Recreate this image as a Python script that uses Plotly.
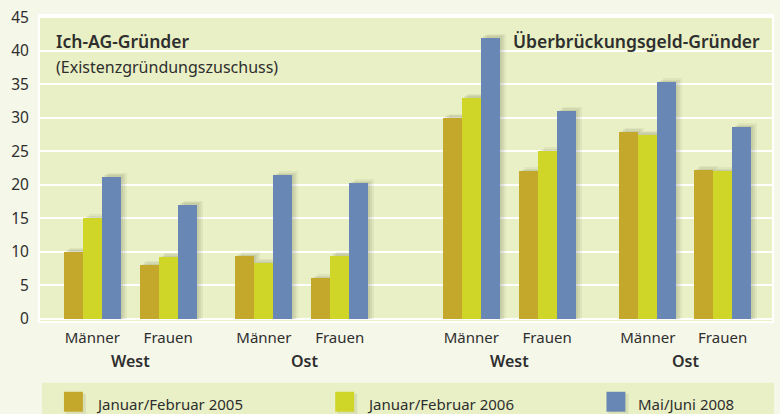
import plotly.graph_objects as go

# ---------------- data ----------------
categories = ["Männer", "Frauen", "Männer", "Frauen", "Männer", "Frauen", "Männer", "Frauen"]
regions = ["West", "Ost", "West", "Ost"]
series_names = ["Januar/Februar 2005", "Januar/Februar 2006", "Mai/Juni 2008"]
jan_feb_2005 = [10.0, 8.0, 9.3, 6.0, 30.0, 22.0, 27.9, 22.2]
jan_feb_2006 = [15.0, 9.2, 8.3, 9.4, 33.0, 25.0, 27.5, 22.0]
mai_jun_2008 = [21.2, 17.0, 21.4, 20.2, 42.0, 31.0, 35.3, 28.6]
y_ticks = [0, 5, 10, 15, 20, 25, 30, 35, 40, 45]

# ---------------- layout constants ----------------
W, H = 780, 414
L, R, T, B = 40, 6, 15, 93          # plot area 40..774 x 15..321
X0, X1 = 40, 774                      # x axis expressed in pixel-like units
group_x = [92.5, 168.5, 264.5, 340.5, 472.5, 548.5, 649.5, 724.5]
region_x = [131, 305, 511, 687]
BW = 19
colors = ["#C4A82B", "#CFD627", "#6887B5"]
plot_bg = "#E9F0C5"
page_bg = "#F5F7E9"
text_col = "#2E2E2E"
FONT = "Noto Sans"

def px(xp):
    return (xp - L) / (W - L - R)

def py(yp):
    return (H - B - yp) / (H - T - B)

series = [jan_feb_2005, jan_feb_2006, mai_jun_2008]
offsets = [-1.5 * BW, -0.5 * BW, 0.5 * BW]

fig = go.Figure()

# soft shadows
for vals, off in zip(series, offsets):
    for dx, dy, a in [(6, 0.6, 0.06), (4, 0.4, 0.08), (2, 0.2, 0.08)]:
        fig.add_trace(go.Bar(
            x=group_x, y=[v + dy for v in vals], offset=off + dx, width=BW,
            marker=dict(color=f"rgba(70,70,40,{a})", line=dict(width=0)),
            showlegend=False, hoverinfo="skip"))

for name, vals, off, c in zip(series_names, series, offsets, colors):
    fig.add_trace(go.Bar(
        x=group_x, y=vals, offset=off, width=BW, name=name,
        marker=dict(color=c, line=dict(width=0)), showlegend=False))

shapes = []
annotations = []

# legend band
shapes.append(dict(type="rect", xref="paper", yref="paper",
                   x0=px(42), x1=px(776), y0=py(383), y1=py(416),
                   fillcolor=plot_bg, line=dict(width=0), layer="below"))
sw_x = [64, 336, 608]
for sx, c, name in zip(sw_x, colors, series_names):
    shapes.append(dict(type="rect", xref="paper", yref="paper",
                       x0=px(sx + 2), x1=px(sx + 22), y0=py(394), y1=py(414),
                       fillcolor="rgba(70,70,40,0.10)", line=dict(width=0)))
    shapes.append(dict(type="rect", xref="paper", yref="paper",
                       x0=px(sx), x1=px(sx + 19), y0=py(392), y1=py(412),
                       fillcolor=c, line=dict(width=0)))
    annotations.append(dict(text=name, xref="paper", yref="paper",
                            x=px(sx + 30), y=py(404), xanchor="left", yanchor="middle",
                            showarrow=False, font=dict(family=FONT, size=15, color=text_col)))

# region labels
for rx, rn in zip(region_x, regions):
    annotations.append(dict(text=rn, x=rx, xref="x", yref="paper",
                            y=py(361), xanchor="center", yanchor="middle",
                            showarrow=False,
                            font=dict(family=FONT, size=16, color=text_col, weight=600)))

# panel titles
annotations.append(dict(text="Ich-AG-Gründer", xref="paper", yref="paper",
                        x=px(54), y=py(40), xanchor="left", yanchor="middle", showarrow=False,
                        font=dict(family=FONT, size=17.5, color=text_col, weight=600)))
annotations.append(dict(text="(Existenzgründungszuschuss)", xref="paper", yref="paper",
                        x=px(54), y=py(66), xanchor="left", yanchor="middle", showarrow=False,
                        font=dict(family=FONT, size=16, color=text_col)))
annotations.append(dict(text="Überbrückungsgeld-Gründer", xref="paper", yref="paper",
                        x=px(764), y=py(40), xanchor="right", yanchor="middle", showarrow=False,
                        font=dict(family=FONT, size=17.5, color=text_col, weight=600)))

fig.update_layout(
    width=W, height=H,
    margin=dict(l=L, r=R, t=T, b=B, pad=0),
    paper_bgcolor=page_bg, plot_bgcolor=plot_bg,
    barmode="overlay", bargap=0,
    shapes=shapes, annotations=annotations,
    font=dict(family=FONT, size=15, color=text_col),
    xaxis=dict(range=[X0, X1], tickvals=group_x, ticktext=categories,
               showgrid=False, zeroline=False, ticks="", ticklabelstandoff=2,
               showline=True, linecolor="white", linewidth=2, mirror=True,
               tickfont=dict(family=FONT, size=15, color=text_col), fixedrange=True),
    yaxis=dict(range=[-0.37, 45.22], tickvals=y_ticks, showgrid=True,
               gridcolor="white", gridwidth=2, zeroline=True, zerolinecolor="white",
               zerolinewidth=2, ticks="", ticklabelstandoff=6,
               showline=True, linecolor="white", linewidth=2, mirror=True,
               tickfont=dict(family=FONT, size=15.5, color=text_col), fixedrange=True),
)

fig.write_html("out.html", config={"displayModeBar": False},
               post_script="document.body.style.margin='0';document.body.style.overflow='hidden';")
